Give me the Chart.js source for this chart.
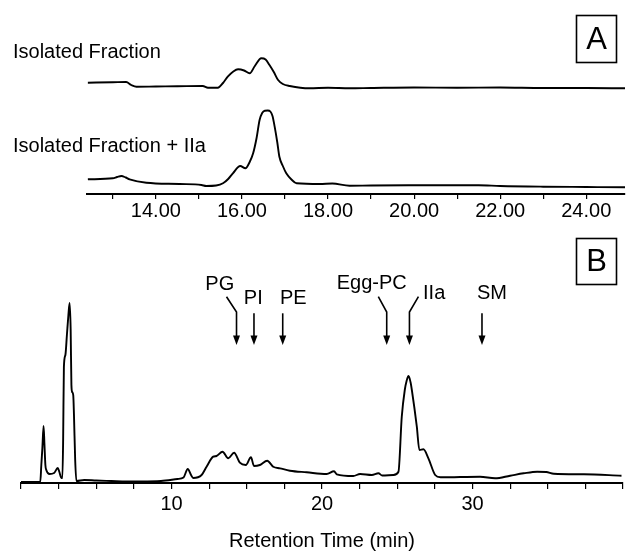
<!DOCTYPE html>
<html><head><meta charset="utf-8">
<script src="https://cdn.jsdelivr.net/npm/chart.js@4.4.1/dist/chart.umd.min.js"></script>
<style>
html,body{margin:0;padding:0;background:#fff;}
#wrap{position:relative;width:628px;height:554px;background:#fff;}
#ca{position:absolute;left:0;top:0;}
#cb{position:absolute;left:0;top:232px;}
</style></head><body>
<div id="wrap">
<canvas id="ca" width="628" height="232" style="width:628px;height:232px"></canvas>
<canvas id="cb" width="628" height="322" style="width:628px;height:322px"></canvas>
</div>
<script>
// ---------- DATA ----------
// Panel A: trace names
const traceNamesA = ['Isolated Fraction', 'Isolated Fraction + IIa'];
// Panel A, upper trace (isolated fraction): retention time (min) / detector signal (a.u., above own baseline)
const timeA1 = [12.42, 13.0, 13.31, 13.43, 13.55, 14.0, 14.5, 15.09, 15.21, 15.44, 15.56, 15.67, 15.8, 15.91, 16.05, 16.18, 16.3, 16.45, 16.55, 16.64, 16.74, 16.84, 16.95, 17.11, 17.57, 18.0, 18.5, 19.0, 20.0, 21.0, 22.0, 23.0, 24.0, 24.9];
const signalA1 = [5.3, 5.7, 6.0, 3.0, 1.3, 1.5, 1.7, 2.0, 0.3, 0.3, 5, 11.3, 16.5, 18.7, 17.5, 14.7, 22, 29.7, 28.5, 23, 16, 8, 4, 2, -0.3, 0.3, -0.3, 0, 0.5, 0.3, 0.5, 0, 0, -0.3];
// Panel A, lower trace (isolated fraction + IIa)
const timeA2 = [12.42, 13.0, 13.1, 13.2, 13.3, 13.39, 13.78, 14.55, 15.06, 15.17, 15.4, 15.56, 15.68, 15.79, 15.96, 16.08, 16.18, 16.26, 16.34, 16.41, 16.47, 16.53, 16.6, 16.66, 16.71, 16.76, 16.82, 16.87, 16.95, 17.03, 17.15, 17.27, 17.81, 18.1, 18.5, 19.0, 20.0, 21.0, 21.5, 22.0, 23.0, 24.0, 24.9];
const signalA2 = [7.7, 8.7, 10, 11, 9.5, 7.7, 4.3, 3, 2, 1, 1.5, 3.7, 8, 13.7, 21, 18.7, 25, 33.7, 49, 67, 74, 76.3, 76.5, 75.5, 71, 60.3, 45, 30.3, 21, 13.7, 7.5, 3.7, 3, 3.5, 1.3, 1.5, 1.7, 1.8, 1.8, 1, 0.3, 0, -0.3];
// Panel A axis
const labelledTicksA = [14, 16, 18, 20, 22, 24];

// Panel B: full chromatogram
const timeB = [0, 1.28, 1.35, 1.42, 1.5, 1.56, 1.62, 1.68, 1.9, 2.2, 2.44, 2.55, 2.68, 2.75, 2.8, 2.85, 2.95, 3.05, 3.15, 3.23, 3.3, 3.35, 3.4, 3.47, 3.52, 3.6, 3.68, 4.2, 5.0, 6.0, 7.0, 8.0, 9.3, 10.4, 10.8, 11.08, 11.3, 11.44, 12.0, 12.33, 12.77, 12.99, 13.39, 13.77, 14.16, 14.54, 14.94, 15.28, 15.48, 15.87, 16.36, 16.76, 17.21, 17.87, 18.98, 20.31, 20.8, 20.98, 22.08, 22.53, 23.31, 23.75, 24.0, 24.74, 25.08, 25.3, 25.5, 25.62, 25.75, 25.88, 25.97, 26.3, 26.47, 26.74, 27.07, 27.52, 27.88, 30.5, 31.5, 32.5, 33.4, 34.3, 34.9, 35.4, 37.4, 39.9];
const signalB = [1, 1, 18, 35, 57, 38, 18, 13, 9, 10, 15, 11, 5, 5, 43, 116, 128, 148, 168, 180, 153, 98, 91, 88, 68, 23, 2, 3, 2.5, 2, 1.5, 1.5, 2, 4, 5.5, 14, 8, 5, 8, 16.3, 26.3, 27, 31.3, 24.7, 30.3, 20.3, 18, 25.7, 17, 18, 22.3, 16.3, 14.7, 12.3, 10.7, 9, 11.7, 8.7, 7, 9, 8, 9.7, 7.5, 8, 11.3, 66.3, 93, 102, 107, 101, 93, 56.3, 33, 33.7, 24.7, 8, 5.7, 6.3, 4.7, 7.3, 9.7, 11.3, 11, 9.3, 8.7, 7.3];
// Panel B axis
const labelledTicksB = [10, 20, 30];
const axisTitleB = 'Retention Time (min)';
// Panel B standards marked with arrows
const standardNames = ['PG', 'PI', 'PE', 'Egg-PC', 'IIa', 'SM'];
const standardTimes = [14.32, 15.48, 17.39, 24.3, 25.81, 30.63];

// ---------- LAYOUT / STYLE ----------
const FONT = '"Liberation Sans", Arial, Helvetica, sans-serif';
const FS = 20;
const offsetA = [106, 7];            // vertical offsets of stacked traces
const nameYA = [52, 146];            // y of trace names
const labelDx = [-16.7, -0.7, 10.6, -15, 24.7, 10];
const labelY = [52.7, 66.3, 66, 51.3, 61, 61];
const bendDx = [-10, 0, 0, -8.4, 9, 0];

function pts(t, s, off) { return t.map((v, i) => ({x: v, y: s[i] + (off || 0)})); }

function boxLabel(ctx, text, x, y, w, h) {
  ctx.save();
  ctx.lineWidth = 1.6; ctx.strokeStyle = '#000';
  ctx.strokeRect(x, y, w, h);
  ctx.fillStyle = '#000';
  ctx.font = '31px ' + FONT;
  ctx.textAlign = 'center'; ctx.textBaseline = 'middle';
  ctx.fillText(text, x + w / 2, y + h / 2 + 1);
  ctx.restore();
}

const commonLine = {borderColor: '#000', borderWidth: 1.9, pointRadius: 0, cubicInterpolationMode: 'monotone', fill: false};

const annotA = {
  id: 'annotA',
  afterDraw(chart) {
    const ctx = chart.ctx;
    ctx.save();
    ctx.fillStyle = '#000';
    ctx.font = FS + 'px ' + FONT;
    ctx.textAlign = 'left'; ctx.textBaseline = 'middle';
    traceNamesA.forEach((n, i) => ctx.fillText(n, 13, nameYA[i]));
    ctx.restore();
    boxLabel(ctx, 'A', 576.5, 15.5, 40, 47);
  }
};

const annotB = {
  id: 'annotB',
  afterDraw(chart) {
    const ctx = chart.ctx;
    const xs = chart.scales.x;
    ctx.save();
    ctx.strokeStyle = '#000'; ctx.fillStyle = '#000';
    ctx.lineWidth = 1.6;
    ctx.font = FS + 'px ' + FONT;
    ctx.textAlign = 'center'; ctx.textBaseline = 'middle';
    standardTimes.forEach((t, i) => {
      const x = xs.getPixelForValue(t);
      ctx.fillText(standardNames[i], x + labelDx[i], labelY[i]);
      ctx.beginPath();
      if (bendDx[i] !== 0) {
        ctx.moveTo(x + bendDx[i], 64.7);
        ctx.lineTo(x, 80);
      } else {
        ctx.moveTo(x, 81.3);
      }
      ctx.lineTo(x, 105);
      ctx.stroke();
      ctx.beginPath();
      ctx.moveTo(x - 3.5, 103.5); ctx.lineTo(x + 3.5, 103.5); ctx.lineTo(x, 113); ctx.closePath();
      ctx.fill();
    });
    ctx.restore();
    boxLabel(ctx, 'B', 576.5, 6.5, 40, 46);
  }
};

Chart.defaults.font.family = FONT;
Chart.defaults.color = '#000';

new Chart(document.getElementById('ca'), {
  type: 'line',
  data: {datasets: [
    Object.assign({label: traceNamesA[0], data: pts(timeA1, signalA1, offsetA[0])}, commonLine),
    Object.assign({label: traceNamesA[1], data: pts(timeA2, signalA2, offsetA[1])}, commonLine)
  ]},
  options: {
    responsive: false, animation: false, devicePixelRatio: 1,
    layout: {padding: {left: 87, right: 3, top: 20, bottom: 8}},
    plugins: {legend: {display: false}, tooltip: {enabled: false}, title: {display: false}},
    scales: {
      x: {
        type: 'linear', min: 12.4, max: 24.9,
        border: {display: true, color: '#000', width: 2},
        grid: {display: true, drawOnChartArea: false, drawTicks: true, tickLength: 5, color: '#000', lineWidth: 1.2},
        ticks: {stepSize: 1, autoSkip: false, maxRotation: 0, minRotation: 0, includeBounds: false, padding: 0, color: '#000', font: {size: FS, family: FONT},
          callback: (v) => labelledTicksA.includes(v) ? v.toFixed(2) : ''},
        afterFit: (s) => { s.height = 30; }
      },
      y: {display: false, min: 0, max: 174}
    }
  },
  plugins: [annotA]
});

new Chart(document.getElementById('cb'), {
  type: 'line',
  data: {datasets: [
    Object.assign({label: 'Chromatogram', data: pts(timeB, signalB, 0)}, commonLine)
  ]},
  options: {
    responsive: false, animation: false, devicePixelRatio: 1,
    layout: {padding: {left: 21, right: 5, top: 11, bottom: 1}},
    plugins: {legend: {display: false}, tooltip: {enabled: false}, title: {display: false}},
    scales: {
      x: {
        type: 'linear', min: 0, max: 40,
        border: {display: true, color: '#000', width: 2},
        grid: {display: true, drawOnChartArea: false, drawTicks: true, tickLength: 6, color: '#000', lineWidth: 1.2},
        ticks: {stepSize: 2.5, autoSkip: false, maxRotation: 0, minRotation: 0, includeBounds: false, padding: 3, color: '#000', font: {size: FS, family: FONT},
          callback: (v) => labelledTicksB.includes(v) ? String(v) : ''},
        title: {display: true, text: axisTitleB, color: '#000', font: {size: FS, family: FONT}, padding: 0},
        afterFit: (s) => { s.height = 70; }
      },
      y: {display: false, min: 0, max: 240}
    }
  },
  plugins: [annotB]
});
</script>
</body></html>
